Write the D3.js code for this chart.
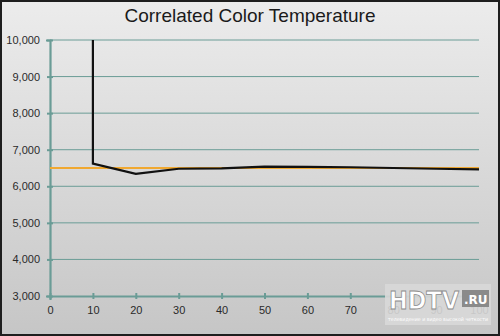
<!DOCTYPE html>
<html><head><meta charset="utf-8">
<script src="https://cdn.jsdelivr.net/npm/d3@7"></script>
<style>html,body{margin:0;padding:0;background:#fff}svg{display:block}</style>
</head><body>
<script>
const title = "Correlated Color Temperature";
const xTicks = [0,10,20,30,40,50,60,70,80,90,100];
const yTicks = [3000,4000,5000,6000,7000,8000,9000,10000];
const measuredX = [10,10,20,30,40,50,60,70,80,90,100];
const measuredY = [12000,6620,6340,6480,6490,6540,6530,6520,6500,6480,6460];
const targetX = [0,100];
const targetY = [6500,6500];

const W=500,H=336;
const svg=d3.select("body").append("svg").attr("width",W).attr("height",H);
const defs=svg.append("defs");
const g=defs.append("linearGradient").attr("id","bg").attr("x1",0).attr("y1",0).attr("x2",0).attr("y2",1);
g.append("stop").attr("offset","0%").attr("stop-color","#ececec");
g.append("stop").attr("offset","100%").attr("stop-color","#c6c6c6");
svg.append("rect").attr("x",1).attr("y",1).attr("width",W-2).attr("height",H-2).attr("fill","url(#bg)").attr("stroke","#1e1e1e").attr("stroke-width",2);

const x=d3.scaleLinear().domain([0,100]).range([50,479]);
const y=d3.scaleLinear().domain([3000,10000]).range([296,40]);

svg.append("text").attr("x",250).attr("y",22).attr("text-anchor","middle")
  .attr("font-family","Liberation Sans, Arial, sans-serif").attr("font-size",19).attr("fill","#1a1a1a").text(title);

const teal="#6a9c96";
svg.append("g").selectAll("line").data(yTicks.filter(d=>d>3000)).join("line")
  .attr("x1",x(0)).attr("x2",x(100)).attr("y1",d=>y(d)).attr("y2",d=>y(d))
  .attr("stroke",teal).attr("stroke-width",1);

const ya=svg.append("g").attr("transform",`translate(${x(0)},0)`)
  .call(d3.axisLeft(y).tickValues(yTicks).tickFormat(d3.format(",")).tickSize(4).tickPadding(6));
ya.select(".domain").attr("stroke",teal).attr("stroke-width",2.2);
ya.selectAll(".tick line").attr("stroke",teal).attr("stroke-width",2).attr("x2",3).attr("x1",-3);
ya.selectAll("text").attr("font-family","Liberation Sans, Arial, sans-serif").attr("font-size",11).attr("fill","#2a2a2a");

const xa=svg.append("g").attr("transform",`translate(0,${y(3000)})`)
  .call(d3.axisBottom(x).tickValues(xTicks).tickSize(4).tickPadding(6));
xa.select(".domain").attr("stroke",teal).attr("stroke-width",2.2);
xa.selectAll(".tick line").attr("stroke",teal).attr("stroke-width",2).attr("y1",-3).attr("y2",3);
xa.selectAll("text").attr("font-family","Liberation Sans, Arial, sans-serif").attr("font-size",11).attr("fill","#2a2a2a");

defs.append("clipPath").attr("id","plot").append("rect").attr("x",x(0)).attr("y",y(10000)).attr("width",x(100)-x(0)).attr("height",y(3000)-y(10000));

const line=d3.line().x(d=>x(d[0])).y(d=>y(d[1]));
svg.append("path").attr("clip-path","url(#plot)").datum(d3.zip(targetX,targetY)).attr("d",line)
  .attr("fill","none").attr("stroke","#f0a830").attr("stroke-width",2);
svg.append("path").attr("clip-path","url(#plot)").datum(d3.zip(measuredX,measuredY)).attr("d",line)
  .attr("fill","none").attr("stroke","#111").attr("stroke-width",2.2).attr("stroke-linejoin","miter");

// watermark
const wm=svg.append("g");
wm.append("rect").attr("x",385).attr("y",284).attr("width",106).attr("height",41).attr("fill","#d8d8d8").attr("opacity",0.9);
wm.append("text").attr("x",389).attr("y",309).attr("font-family","DejaVu Sans, sans-serif").attr("font-weight","bold")
  .attr("font-size",24).attr("fill","#fff").attr("stroke","#8a8a8a").attr("stroke-width",0.8).attr("textLength",70).attr("lengthAdjust","spacingAndGlyphs").text("HDTV");
wm.append("rect").attr("x",462).attr("y",290).attr("width",27).attr("height",17).attr("fill","#8a8a8a");
wm.append("text").attr("x",464).attr("y",304).attr("font-family","DejaVu Sans, sans-serif").attr("font-weight","bold")
  .attr("font-size",12).attr("fill","#fff").text(".RU");
wm.append("text").attr("x",388).attr("y",321).attr("font-family","DejaVu Sans, sans-serif")
  .attr("font-size",5).attr("fill","#fff").attr("textLength",100).attr("lengthAdjust","spacingAndGlyphs").text("телевидение и видео высокой четкости");
</script>
</body></html>
